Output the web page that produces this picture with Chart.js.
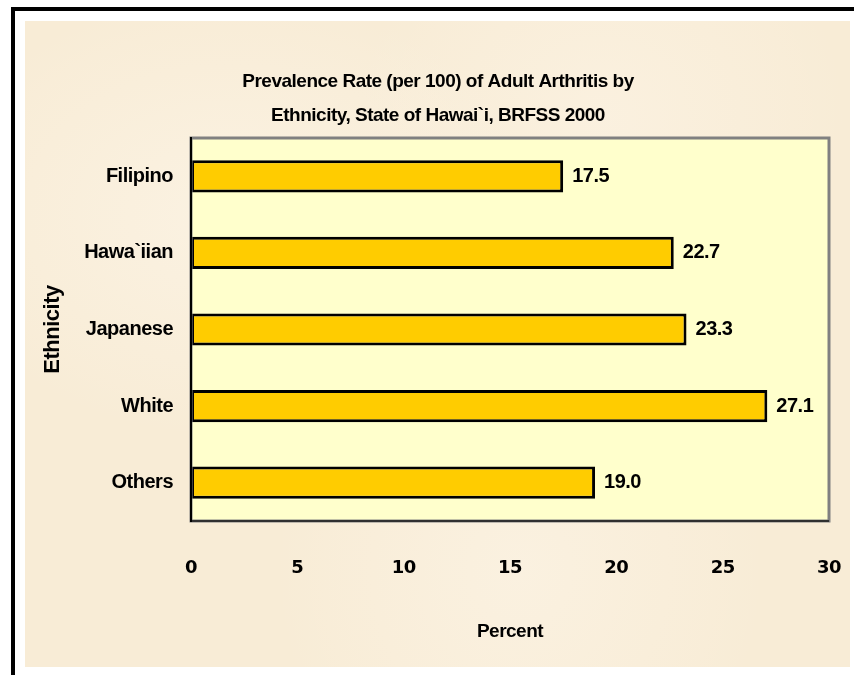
<!DOCTYPE html>
<html>
<head>
<meta charset="utf-8">
<script src="https://cdn.jsdelivr.net/npm/chart.js@4.4.1/dist/chart.umd.min.js"></script>
<style>
  html, body { margin: 0; padding: 0; background: #fff; overflow: hidden; }
  #frame {
    position: absolute; left: 11px; top: 7px; width: 900px; height: 700px;
    border-left: 4px solid #000; border-top: 4px solid #000;
  }
  #paper {
    position: absolute; left: 25px; top: 21px; width: 825px; height: 646px;
    background-color: #f8ecd6;
    background-image:
      radial-gradient(ellipse at 25% 30%, rgba(253,246,234,0.6), rgba(253,246,234,0) 35%),
      radial-gradient(ellipse at 70% 15%, rgba(253,245,232,0.5), rgba(253,245,232,0) 30%),
      radial-gradient(ellipse at 60% 85%, rgba(253,246,234,0.5), rgba(253,246,234,0) 35%);
  }
  #wrap { position: absolute; left: 0; top: 0; width: 854px; height: 675px; }
</style>
</head>
<body>
<div id="frame"></div>
<div id="paper"></div>
<div id="wrap"><canvas id="chart" width="854" height="675"></canvas></div>
<script>
const ethnicities = ['Filipino', 'Hawa`iian', 'Japanese', 'White', 'Others'];
const prevalence = [17.5, 22.7, 23.3, 27.1, 19.0];
const xTicks = [0, 5, 10, 15, 20, 25, 30];
const titleLines = [
    'Prevalence Rate (per 100) of Adult Arthritis by',
    'Ethnicity, State of Hawai`i, BRFSS 2000'
];

const FONT = '"Liberation Sans", Arial, sans-serif';

// tighter text like the original picture
const spacingPlugin = {
    id: 'spacing',
    beforeUpdate(chart) { chart.ctx.letterSpacing = '-0.5px'; },
    beforeDraw(chart) { chart.ctx.letterSpacing = '-0.5px'; }
};

const plotAreaPlugin = {
    id: 'plotArea',
    beforeDraw(chart) {
        const { ctx, chartArea: a } = chart;
        ctx.save();
        ctx.fillStyle = '#ffffcc';
        ctx.fillRect(a.left, a.top, a.right - a.left, a.bottom - a.top);
        ctx.restore();
    },
    afterDatasetsDraw(chart) {
        const { ctx, chartArea: a } = chart;
        ctx.save();
        ctx.strokeStyle = '#808080';
        ctx.lineWidth = 3;
        ctx.strokeRect(a.left, a.top, a.right - a.left, a.bottom - a.top);
        ctx.strokeStyle = '#303030';
        ctx.lineWidth = 2;
        ctx.beginPath();
        ctx.moveTo(a.left, a.bottom);
        ctx.lineTo(a.right, a.bottom);
        ctx.stroke();
        ctx.strokeStyle = '#000';
        ctx.beginPath();
        ctx.moveTo(a.left, a.top - 1);
        ctx.lineTo(a.left, a.bottom + 1);
        ctx.stroke();
        ctx.restore();
    }
};

const valueLabels = {
    id: 'valueLabels',
    afterDatasetsDraw(chart) {
        const ctx = chart.ctx;
        const meta = chart.getDatasetMeta(0);
        ctx.save();
        ctx.font = 'bold 20px ' + FONT;
        ctx.fillStyle = '#000';
        ctx.textAlign = 'left';
        ctx.textBaseline = 'middle';
        meta.data.forEach((bar, i) => {
            ctx.fillText(prevalence[i].toFixed(1), bar.x + 9, bar.y);
        });
        ctx.restore();
    }
};

const topTitle = {
    id: 'topTitle',
    afterDraw(chart) {
        const ctx = chart.ctx;
        ctx.save();
        ctx.font = 'bold 19px ' + FONT;
        ctx.letterSpacing = '-0.5px';
        ctx.fillStyle = '#000';
        ctx.textAlign = 'center';
        ctx.textBaseline = 'middle';
        titleLines.forEach((t, i) => ctx.fillText(t, 438, 82 + i * 34));
        ctx.restore();
    }
};

new Chart(document.getElementById('chart'), {
    type: 'bar',
    data: {
        labels: ethnicities,
        datasets: [{
            data: prevalence,
            backgroundColor: '#ffcc00',
            borderColor: '#000',
            borderWidth: 3,
            borderSkipped: false,
            categoryPercentage: 1,
            barPercentage: 0.42
        }]
    },
    options: {
        indexAxis: 'y',
        responsive: false,
        animation: false,
        layout: { padding: { left: 40, top: 138, right: 25, bottom: 0 } },
        plugins: {
            legend: { display: false },
            title: { display: false },
            tooltip: { enabled: false }
        },
        scales: {
            x: {
                min: xTicks[0],
                max: xTicks[xTicks.length - 1],
                grid: { display: false },
                border: { display: false },
                ticks: {
                    stepSize: xTicks[1] - xTicks[0],
                    padding: 29,
                    color: '#000',
                    font: { family: '"DejaVu Sans"', size: 18, weight: 'bold' }
                },
                title: {
                    display: true,
                    text: 'Percent',
                    color: '#000',
                    font: { family: FONT, size: 19, weight: 'bold' },
                    padding: { top: 0, bottom: 32 }
                },
                afterFit(scale) {
                    scale.height = 154;
                    scale.paddingLeft = 0;
                    scale.paddingRight = 0;
                }
            },
            y: {
                grid: { display: false },
                border: { display: false },
                ticks: {
                    padding: 10,
                    color: '#000',
                    font: { family: FONT, size: 20, weight: 'bold' }
                },
                title: {
                    display: true,
                    text: 'Ethnicity',
                    color: '#000',
                    font: { family: FONT, size: 22, weight: 'bold' },
                    padding: { top: 0, bottom: 0 }
                },
                afterFit(scale) { scale.width = 151; }
            }
        }
    },
    plugins: [spacingPlugin, plotAreaPlugin, valueLabels, topTitle]
});
</script>
</body>
</html>
